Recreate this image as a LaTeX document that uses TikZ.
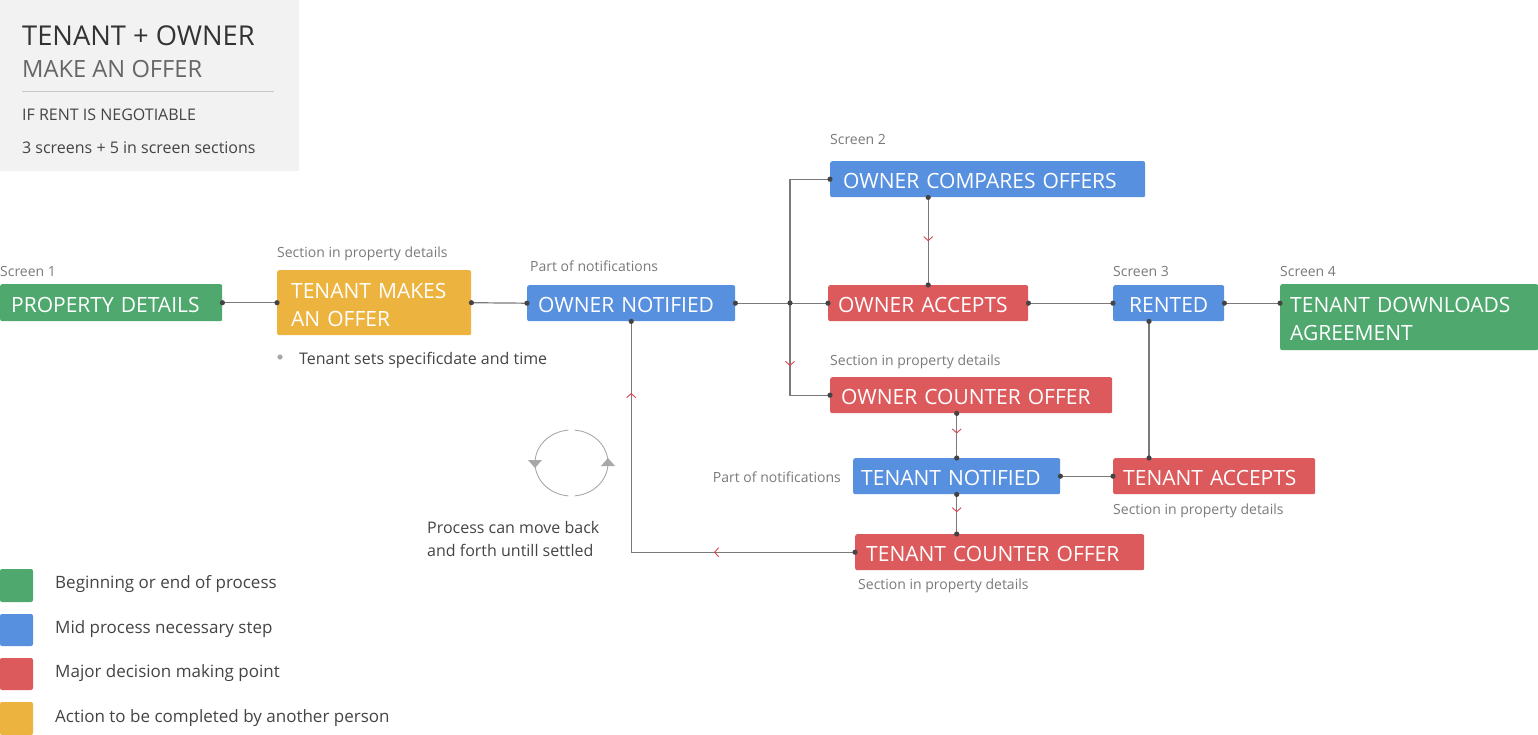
\documentclass[tikz,border=0pt]{standalone}
\usepackage{fontspec}
\setmainfont{Open Sans}
\usetikzlibrary{arrows.meta,decorations.markings,calc}
\definecolor{cgreen}{HTML}{4FA86E}
\definecolor{cblue}{HTML}{5890E0}
\definecolor{cred}{HTML}{DD5A5C}
\definecolor{corange}{HTML}{EDB33F}
\definecolor{cbg}{HTML}{F2F2F2}
\definecolor{cline}{HTML}{7A7A7A}
\definecolor{cdot}{HTML}{444444}
\definecolor{clabel}{HTML}{7A7A7A}
\definecolor{ctext}{HTML}{444444}
\definecolor{carrow}{HTML}{D9434A}
\definecolor{cloop}{HTML}{A8A8A8}
\newcommand\bxfont{\fontsize{21}{28}\selectfont}
\newcommand\lblfont{\fontsize{14}{17}\selectfont}
\newcommand\txfont{\fontsize{16}{23}\selectfont}
\newcommand\lgfont{\fontsize{17}{23}\selectfont}
\newcommand\dt[1]{\fill[cdot] (#1) circle (2.6);}
\begin{document}
\begin{tikzpicture}[x=1pt,y=-1pt,
  box/.style={anchor=north west, rounded corners=2pt, fill=#1, text=white, font=\bxfont, align=left, inner xsep=11pt, inner ysep=0pt, text height=19pt},
  lbl/.style={anchor=west, inner sep=0pt, text=clabel, font=\lblfont},
  txt/.style={anchor=west, inner sep=0pt, text=ctext, font=\txfont, align=left},
  conn/.style={draw=cline, line width=1.2pt},
  chev/.style={postaction={decorate, decoration={markings, mark=at position #1 with {\arrow[carrow, line width=0.9pt]{Straight Barb[length=4pt,width=9pt]}}}}}
]
\useasboundingbox (0,0) rectangle (1538,735);
% title panel
\fill[cbg] (0,0) rectangle (299,171);
\node[anchor=west, inner sep=0pt, text=black!80, font=\fontsize{27.3}{30}\selectfont] (t1) at (22,36) {TENANT + OWNER};
\node[anchor=west, inner sep=0pt, text=black!60, font=\fontsize{23.7}{30}\selectfont] (t2) at (22,69) {MAKE AN OFFER};
\draw[draw=black!22, line width=1pt] (22,92) -- (274,92);
\node[txt] (t3) at (22,115) {IF RENT IS NEGOTIABLE};
\node[txt] (t4) at (22,148) {3 screens + 5 in screen sections};

% boxes
\node[box=cgreen, minimum width=222pt, minimum height=37pt, text width=200pt, inner xsep=10pt] (pd) at (0,284) {PROPERTY DETAILS};
\node[box=corange, minimum width=194pt, minimum height=65pt, text width=166pt, inner xsep=14pt] (tm) at (277,270) {TENANT MAKES\\AN OFFER};
\node[box=cblue, minimum width=208pt, minimum height=36pt, text width=186pt] (on) at (527,285) {OWNER NOTIFIED};
\node[box=cblue, minimum width=315pt, minimum height=36pt, text width=289pt, inner xsep=13pt] (oc) at (830,161) {OWNER COMPARES OFFERS};
\node[box=cred, minimum width=200pt, minimum height=36pt, text width=180pt, inner xsep=10pt] (oa) at (828,285) {OWNER ACCEPTS};
\node[box=cred, minimum width=282pt, minimum height=36pt, text width=260pt] (oco) at (830,377) {OWNER COUNTER OFFER};
\node[box=cblue, minimum width=111pt, minimum height=36pt, text width=79pt, inner xsep=16pt] (rent) at (1113,285) {RENTED};
\node[box=cgreen, minimum width=258pt, minimum height=66pt, text width=238pt, inner xsep=10pt] (tda) at (1280,284) {TENANT DOWNLOADS\\AGREEMENT};
\node[box=cblue, minimum width=207pt, minimum height=36pt, text width=191pt, inner xsep=8pt] (tn) at (853,458) {TENANT NOTIFIED};
\node[box=cred, minimum width=202pt, minimum height=36pt, text width=182pt, inner xsep=10pt] (ta) at (1113,458) {TENANT ACCEPTS};
\node[box=cred, minimum width=289pt, minimum height=36pt, text width=267pt] (tco) at (855,534) {TENANT COUNTER OFFER};

% labels
\node[lbl] (l1) at (0,271) {Screen 1};
\node[lbl] (l2) at (277,254) {Section in property details};
\node[lbl] (l3) at (530,266) {Part of notifications};
\node[lbl] (l4) at (830,140) {Screen 2};
\node[lbl] (l5) at (830,362) {Section in property details};
\node[lbl] (l6) at (1113,271) {Screen 3};
\node[lbl] (l7) at (1280,271) {Screen 4};
\node[lbl, anchor=east] (l8) at (841,477) {Part of notifications};
\node[lbl] (l9) at (1113,511) {Section in property details};
\node[lbl] (l10) at (858,586) {Section in property details};

\fill[cloop] (280,357) circle (2.6);
\node[txt] (b1) at (299,360) {Tenant sets specificdate and time};
\node[txt] (pm) at (427,538.5) {Process can move back\\and forth untill settled};

% connectors
\coordinate (j) at (790,303);
\coordinate (rs) at ($(rent.south west)+(36,0)$);
\draw[conn] (pd.east) -- (tm.west);
\draw[conn] (tm.east) -- (on.west);
\draw[conn] (on.east) -- (oa.west);
\draw[conn] (j) |- (oc.west);
\draw[conn, chev=63pt] (j) |- (oco.west);
\draw[conn, chev=0.5] (oa.north |- oc.south) -- (oa.north);
\draw[conn] (oa.east) -- (oa.east -| rent.west);
\draw[conn] (rent.east) -- (rent.east -| tda.west);
\draw[conn] (rs) -- (rs |- ta.north);
\draw[conn, chev=0.45] (tn.north |- oco.south) -- (tn.north);
\draw[conn] (tn.east) -- (ta.west);
\draw[conn, chev=0.45] (tn.south) -- (tn.south |- tco.north);
\draw[conn, chev=141pt, chev=383pt] (tco.west) -| (on.south);

% dots
\dt{pd.east}\dt{tm.west}\dt{tm.east}\dt{on.west}\dt{on.east}\dt{oa.west}\dt{j}
\dt{oc.west}\dt{oco.west}
\dt{oa.north |- oc.south}\dt{oa.north}
\dt{oa.east}\dt{oa.east -| rent.west}\dt{rent.east}\dt{rent.east -| tda.west}
\dt{rs}\dt{rs |- ta.north}
\dt{tn.north |- oco.south}\dt{tn.north}\dt{tn.east}\dt{ta.west}
\dt{tn.south}\dt{tn.south |- tco.north}\dt{tco.west}\dt{on.south}

% loop icon
\coordinate (lc) at (571.5,463);
\draw[cloop, line width=0.9pt] (lc) ++(265:36.5 and 33) arc[start angle=265, end angle=95, x radius=36.5, y radius=33];
\draw[cloop, line width=0.9pt] (lc) ++(85:36.5 and 33) arc[start angle=85, end angle=-85, x radius=36.5, y radius=33];
\fill[cloop] (528,460) -- (542,460) -- (535,468) -- cycle;
\fill[cloop] (601,466) -- (615,466) -- (608,458) -- cycle;

% legend
\fill[cgreen, rounded corners=2pt] (0,569) rectangle (33,602);
\fill[cblue, rounded corners=2pt] (0,614) rectangle (33,646);
\fill[cred, rounded corners=2pt] (0,658) rectangle (33,690);
\fill[corange, rounded corners=2pt] (0,702) rectangle (33,735);
\node[txt, font=\lgfont] (g1) at (55,584) {Beginning or end of process};
\node[txt, font=\lgfont] (g2) at (55,629) {Mid process necessary step};
\node[txt, font=\lgfont] (g3) at (55,673) {Major decision making point};
\node[txt, font=\lgfont] (g4) at (55,718) {Action to be completed by another person};
\end{tikzpicture}
\end{document}
